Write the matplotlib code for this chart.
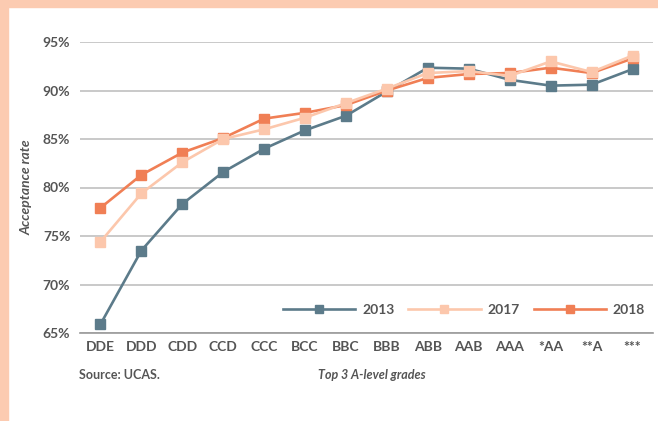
import matplotlib
matplotlib.use("Agg")
import matplotlib.pyplot as plt
from matplotlib.patches import Rectangle

grades = ["DDE", "DDD", "CDD", "CCD", "CCC", "BCC", "BBC", "BBB", "ABB", "AAB", "AAA", "*AA", "**A", "***"]
y2013 = [65.9, 73.5, 78.3, 81.6, 84.0, 85.9, 87.4, 89.9, 92.35, 92.25, 91.1, 90.5, 90.6, 92.2]
y2017 = [74.4, 79.4, 82.6, 85.0, 86.0, 87.2, 88.7, 90.2, 91.8, 92.0, 91.5, 93.0, 91.9, 93.6]
y2018 = [77.9, 81.3, 83.6, 85.1, 87.1, 87.7, 88.5, 90.0, 91.3, 91.7, 91.8, 92.35, 91.8, 93.3]
yticks = [65, 70, 75, 80, 85, 90, 95]

c2013 = "#5c7b8a"
c2017 = "#fcc7ac"
c2018 = "#f07f55"
border = "#fccbb1"
txt = "#555555"

plt.rcParams['font.family'] = ['Lato', 'DejaVu Sans']

fig = plt.figure(figsize=(6.58, 4.21), dpi=100)
W, H = 658, 421
fig.patches.append(Rectangle((0, 0), 8 / W, 1, transform=fig.transFigure, color=border, zorder=0))
fig.patches.append(Rectangle((0, 1 - 7 / H), 1, 7 / H, transform=fig.transFigure, color=border, zorder=0))

ax = fig.add_axes([80 / W, 1 - 333 / H, (653 - 80) / W, (333 - 42) / H])
x = list(range(len(grades)))
ms = 7
ax.plot(x, y2013, color=c2013, lw=1.9, marker="s", ms=ms, label="2013", zorder=3)
ax.plot(x, y2017, color=c2017, lw=1.9, marker="s", ms=ms, label="2017", zorder=4)
ax.plot(x, y2018, color=c2018, lw=1.9, marker="s", ms=ms, label="2018", zorder=3)

ax.set_xlim(-0.5, len(grades) - 0.5)
ax.set_ylim(65, 95)
ax.set_yticks(yticks)
ax.set_yticklabels([f"{v}%" for v in yticks])
ax.set_xticks(x)
ax.set_xticklabels(grades)
for s in ["top", "right", "left"]:
    ax.spines[s].set_visible(False)
ax.spines["bottom"].set_color("#999999")
ax.spines["bottom"].set_linewidth(1.2)
ax.set_axisbelow(True)
ax.yaxis.grid(True, color="#bbbbbb", lw=1.1)
ax.tick_params(length=0, labelsize=10, labelcolor=txt, pad=6)
ax.tick_params(axis="y", pad=7)
for lab in ax.get_xticklabels() + ax.get_yticklabels():
    lab.set_fontweight("bold")

ax.set_ylabel("Acceptance rate", fontsize=10, fontweight="bold", style="italic", color=txt)
ax.yaxis.set_label_coords((33 - 80) / (653 - 80), 0.5)

leg = ax.legend(loc="center right", ncol=3, frameon=False, fontsize=10, handlelength=5.2,
                columnspacing=1.0, handletextpad=0.5, markerscale=0.8,
                bbox_to_anchor=((645 - 80) / (653 - 80), (333 - 310) / (333 - 42)),
                borderaxespad=0, borderpad=0)
for t in leg.get_texts():
    t.set_color(txt)
    t.set_fontweight("bold")

fig.text(79 / W, 1 - 375 / H, "Source: UCAS.", fontsize=9, fontweight="bold", color=txt, va="center")
fig.text(372 / W, 1 - 375 / H, "Top 3 A-level grades", fontsize=9, fontweight="bold", style="italic",
         color=txt, va="center", ha="center")

fig.savefig("out.png", dpi=100)
